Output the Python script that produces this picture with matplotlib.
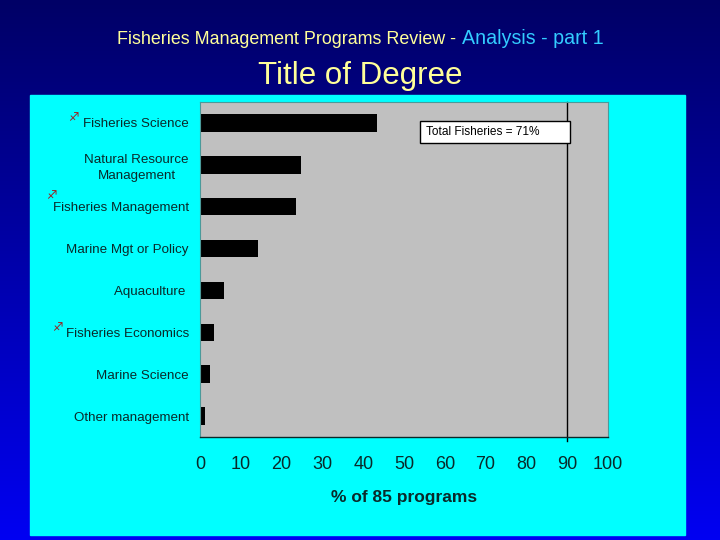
import matplotlib
matplotlib.use('Agg')
import matplotlib.pyplot as plt
import numpy as np
from matplotlib.patches import Rectangle

plt.rcParams['font.family'] = ['Liberation Sans', 'DejaVu Sans']

categories = ['Fisheries Science', 'Natural Resource\nManagement', 'Fisheries Management',
              'Marine Mgt or Policy', 'Aquaculture ', 'Fisheries Economics',
              'Marine Science', 'Other management']
percent = [43.5, 24.7, 23.5, 14.1, 5.9, 3.5, 2.4, 1.2]
fisheries = [True, False, True, False, False, True, False, False]
xticks = [0, 10, 20, 30, 40, 50, 60, 70, 80, 90, 100]
total_line = 90
total_label = 'Total Fisheries = 71%'

W, H = 720, 540
fig = plt.figure(figsize=(7.2, 5.4), dpi=100)

# blue gradient background
bg = fig.add_axes([0, 0, 1, 1])
grad = np.linspace(0, 1, 256).reshape(-1, 1)
top = np.array([0.0, 0.0, 0.40])
bot = np.array([0.0, 0.0, 0.95])
img = top + (bot - top) * grad[:, :, None]
bg.imshow(img, aspect='auto', extent=[0, 1, 0, 1], origin='upper')
bg.set_xlim(0, 1)
bg.set_ylim(0, 1)
bg.axis('off')

# cyan panel
bg.add_patch(Rectangle((30 / W, 1 - 535 / H), 655 / W, 440 / H, color='#00FFFF', zorder=2))

fig.text(456 / W, 1 - 44 / H, 'Fisheries Management Programs Review -', ha='right', va='baseline',
         fontsize=12.9, color='#FFFF99')
fig.text(462 / W, 1 - 44 / H, 'Analysis - part 1', ha='left', va='baseline',
         fontsize=14.1, color='#33CCFF')
fig.text(0.5, 1 - 76 / H, 'Title of Degree', ha='center', va='center',
         fontsize=22.5, color='#FFFF99')

ax = fig.add_axes([200 / W, 1 - 437 / H, 408 / W, 335 / H])
ax.set_facecolor('#C0C0C0')
y = np.arange(len(categories))
ax.barh(y, percent, height=0.42, color='black')
ax.set_xlim(0, 100)
ax.set_ylim(len(categories) - 0.5, -0.5)
ax.set_yticks(y)
ax.set_yticklabels(categories, fontsize=9.6, color='#0A2A2A')
for lab in ax.get_yticklabels():
    lab.set_multialignment('center')
    lab.set_linespacing(1.45)
ax.set_xticks(xticks)
ax.set_xticklabels([str(t) for t in xticks], fontsize=13, color='#0A2A2A')
ax.tick_params(axis='x', length=0, pad=14)
ax.tick_params(axis='y', length=0, pad=8)
for s in ['top', 'right', 'left']:
    ax.spines[s].set_color('#4A9A9A')
    ax.spines[s].set_linewidth(0.8)
ax.spines['bottom'].set_color('#0A2A2A')
ax.spines['bottom'].set_linewidth(1.0)
ax.set_xlabel('% of 85 programs', fontsize=12.5, fontweight='bold', color='#0A2A2A', labelpad=12)

ax.axvline(total_line, ymin=-0.012, ymax=1, color='black', lw=1, clip_on=False)

ax.add_patch(Rectangle((0.539, 0.878), 0.368, 0.066, transform=ax.transAxes,
                       facecolor='white', edgecolor='black', lw=1, zorder=3))
ax.text(0.555, 0.911, total_label, transform=ax.transAxes, fontsize=8.6,
        va='center', ha='left', zorder=4)

# arrow markers for the fisheries degrees
arrow_pos = {0: (73, 118), 2: (51, 196), 5: (57, 328)}
for i, is_fish in enumerate(fisheries):
    if is_fish:
        px, py = arrow_pos[i]
        fig.text(px / W, 1 - py / H, '\u2650', fontsize=8.5, color='#A01818',
                 ha='center', va='center', family='DejaVu Sans', fontweight='bold')

fig.savefig('out.png', dpi=100)
